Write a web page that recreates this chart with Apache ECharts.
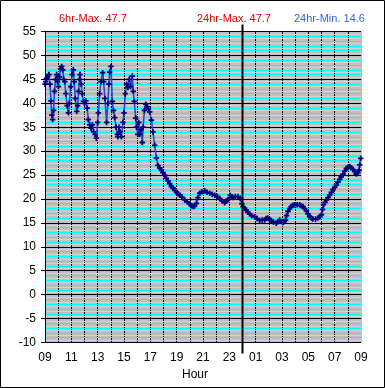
<!DOCTYPE html>
<html><head><meta charset="utf-8">
<script src="https://cdn.jsdelivr.net/npm/echarts@6/dist/echarts.min.js"></script>
<style>html,body{margin:0;padding:0;background:#fff}#c{width:385px;height:388px}</style>
</head><body><div id="c"></div>
<script>
// hours after 09:00
var hours = [0.00,0.05,0.12,0.20,0.30,0.38,0.45,0.52,0.58,0.65,0.72,0.80,0.89,0.95,1.02,1.10,1.18,1.27,1.35,1.42,1.50,1.58,1.68,1.78,1.85,1.95,2.05,2.15,2.22,2.30,2.41,2.48,2.55,2.62,2.66,2.75,2.83,2.91,3.00,3.10,3.20,3.29,3.40,3.50,3.60,3.70,3.80,3.90,4.00,4.05,4.15,4.25,4.38,4.45,4.55,4.68,4.78,4.85,4.91,5.01,5.11,5.20,5.29,5.40,5.50,5.54,5.62,5.70,5.80,5.92,6.00,6.10,6.20,6.30,6.40,6.50,6.63,6.70,6.78,6.89,6.95,7.05,7.12,7.19,7.30,7.39,7.45,7.55,7.65,7.75,7.85,7.95,8.08,8.20,8.33,8.46,8.58,8.71,8.84,8.96,9.09,9.22,9.34,9.47,9.60,9.72,9.85,10.00,10.10,10.23,10.40,10.61,10.80,10.99,11.10,11.24,11.35,11.50,11.62,11.75,11.90,12.13,12.30,12.51,12.70,12.89,13.10,13.27,13.45,13.64,13.78,13.90,14.07,14.18,14.28,14.45,14.66,14.83,14.95,15.04,15.15,15.29,15.40,15.54,15.70,15.92,16.10,16.30,16.50,16.68,16.80,16.93,17.05,17.19,17.35,17.57,17.70,17.82,17.95,18.07,18.17,18.27,18.35,18.45,18.58,18.70,18.83,18.96,19.15,19.34,19.45,19.59,19.72,19.85,19.97,20.10,20.22,20.35,20.55,20.73,20.88,20.99,21.08,21.16,21.27,21.37,21.50,21.62,21.75,21.87,22.00,22.13,22.25,22.38,22.50,22.63,22.76,22.89,23.00,23.14,23.27,23.39,23.52,23.65,23.77,23.85,23.90,23.98];
var temps = [44.0,44.5,45.2,45.6,46.0,44.0,40.5,37.5,36.6,38.5,42.5,45.0,46.0,44.5,43.5,45.5,47.2,47.7,47.0,45.0,44.5,42.0,39.5,38.0,40.0,43.5,46.0,47.0,44.5,41.0,38.3,39.5,42.5,45.0,46.0,44.0,42.0,40.4,40.0,40.5,39.0,36.6,35.5,34.8,35.5,34.0,33.5,32.7,36.0,38.0,42.0,44.5,46.4,44.5,41.0,36.0,40.0,44.0,46.5,47.7,40.4,38.5,37.0,35.0,33.5,33.0,35.0,34.0,33.0,36.0,38.0,42.0,44.0,43.3,45.0,43.5,45.7,42.5,40.4,36.9,35.0,33.5,36.0,33.5,34.5,31.8,35.0,38.5,39.8,39.3,38.8,38.2,36.5,34.0,31.2,28.6,27.0,26.5,26.0,25.5,25.0,24.3,23.8,23.2,22.6,22.3,21.8,21.4,21.1,20.8,20.4,19.8,19.4,19.0,18.6,18.4,18.5,19.1,20.3,21.2,21.5,21.7,21.4,21.2,21.0,20.8,20.5,20.1,19.6,19.2,19.5,19.9,20.8,20.4,20.3,20.5,20.5,20.1,19.0,18.4,18.0,17.7,17.2,16.9,16.5,16.3,15.9,15.5,15.6,15.6,15.9,16.0,15.7,15.5,15.2,14.9,15.3,15.6,15.3,15.1,15.3,15.6,16.5,17.4,18.0,18.4,18.7,18.8,18.8,18.8,18.6,18.4,18.0,17.5,16.9,16.3,16.0,15.8,15.8,16.0,16.3,16.7,17.8,18.8,19.3,19.8,20.3,20.8,21.4,22.0,22.4,22.9,23.5,24.1,24.6,25.2,25.8,26.4,26.6,26.8,26.5,26.2,25.7,25.2,25.5,26.0,27.1,28.5];
var startHour = 9;
var yTicks = {min: -10, max: 55, step: 5};
var headerTexts = ['6hr-Max. 47.7', '24hr-Max. 47.7', '24hr-Min. 14.6'];
var xName = 'Hour';

var chart = echarts.init(document.getElementById('c'), null, {renderer: 'canvas'});
var FONT = 'Liberation Sans, Arial, sans-serif';
var data = hours.map(function (h, i) { return [h, temps[i]]; });

function yAxisBase(extra) {
  var o = {type: 'value', min: yTicks.min, max: yTicks.max, gridIndex: 0,
    axisLine: {show: false}, axisTick: {show: false}, axisLabel: {show: false}};
  for (var k in extra) o[k] = extra[k];
  return o;
}
var xColors = [];
for (var i = 0; i <= 24; i++) xColors.push(i === 24 ? '#c0c0c0' : '#000');

var option = {
  animation: false,
  backgroundColor: '#fff',
  title: [
    {text: headerTexts[0], left: 54, top: 8, textStyle: {color: '#e00000', fontSize: 11, fontWeight: 'normal', fontFamily: FONT}},
    {text: headerTexts[1], left: 192, top: 8, textStyle: {color: '#e00000', fontSize: 11, fontWeight: 'normal', fontFamily: FONT}},
    {text: headerTexts[2], left: 289, top: 8, textStyle: {color: '#3366ee', fontSize: 11, fontWeight: 'normal', fontFamily: FONT}}
  ],
  grid: {left: 45, right: 24, top: 31.5, bottom: 45.5, show: true, backgroundColor: '#c0c0c0', borderWidth: 0},
  xAxis: {
    type: 'value', min: 0, max: 24, interval: 1,
    axisLine: {show: true, lineStyle: {color: '#000'}},
    axisTick: {show: false},
    splitLine: {show: true, lineStyle: {color: xColors, width: 1}},
    axisLabel: {margin: 9, color: '#000', fontSize: 12, fontFamily: FONT,
      formatter: function (v) { if (v % 2 !== 0) return ''; var h = (startHour + v) % 24; return (h < 10 ? '0' : '') + h; }}
  },
  yAxis: [
    yAxisBase({interval: 5, z: 3,
      axisLine: {show: true, lineStyle: {color: '#000'}},
      axisTick: {show: true, length: 4, lineStyle: {color: '#000'}},
      axisLabel: {show: true, margin: 9, color: '#000', fontSize: 12, fontFamily: FONT},
      splitLine: {show: true, lineStyle: {color: '#000', width: 1}}}),
    yAxisBase({interval: 1, z: 2, splitLine: {show: true, lineStyle: {color: '#00ffff', width: 1}}}),
    yAxisBase({interval: 0.5, z: 1, splitLine: {show: true, lineStyle: {color: '#d2d2d2', width: 1}}})
  ],
  series: [{
    type: 'line', yAxisIndex: 0, data: data, z: 5,
    showAllSymbol: true,
    symbol: 'path://M1.7,0H3.3V5H1.7Z M0,1.7H5V3.3H0Z', symbolSize: 5.5,
    itemStyle: {color: '#000080'},
    lineStyle: {color: '#2244dd', width: 1.6}
  }]
};
chart.setOption(option);

var midX = chart.convertToPixel({xAxisIndex: 0}, 24 - startHour);
var topY = chart.convertToPixel({yAxisIndex: 0}, yTicks.max);
var botY = chart.convertToPixel({yAxisIndex: 0}, yTicks.min);
var xc0 = chart.convertToPixel({xAxisIndex: 0}, 0);
var xc1 = chart.convertToPixel({xAxisIndex: 0}, 24);
chart.setOption({
  graphic: [
    {type: 'rect', shape: {x: 0.5, y: 0.5, width: 384, height: 387}, style: {fill: 'none', stroke: '#000', lineWidth: 1}, z: 100},
    {type: 'line', shape: {x1: midX, y1: topY - 7, x2: midX, y2: botY + 11}, style: {stroke: '#000', lineWidth: 2}, z: 100},
    {type: 'text', x: (xc0 + xc1) / 2 - 8, y: botY + 26, style: {text: xName, fill: '#000', font: '12px ' + FONT, textAlign: 'center'}, z: 100}
  ]
});
</script></body></html>
